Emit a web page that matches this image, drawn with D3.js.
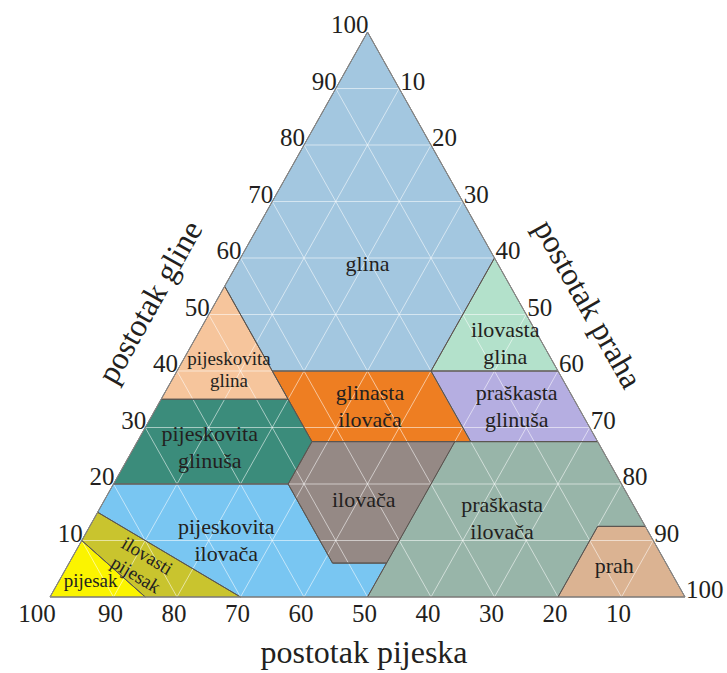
<!DOCTYPE html>
<html>
<head>
<meta charset="utf-8">
<script src="https://cdn.jsdelivr.net/npm/d3@7"></script>
<style>
  html, body { margin: 0; padding: 0; background: #fff; }
  svg text { font-family: "Liberation Serif", "Times New Roman", serif; fill: #231f20; }
</style>
</head>
<body>
<svg id="chart" width="727" height="673"></svg>
<script>
// ---- data (sand, silt, clay) ----
const classNames = ["glina", "ilovasta glina", "pijeskovita glina", "glinasta ilovača",
  "praškasta glinuša", "pijeskovita glinuša", "ilovača", "praškasta ilovača",
  "prah", "pijeskovita ilovača", "ilovasti pijesak", "pijesak"];
const classPolygons = [
  [[0,0,100],[45,0,55],[45,15,40],[20,40,40],[0,40,60]],
  [[0,40,60],[20,40,40],[0,60,40]],
  [[45,0,55],[65,0,35],[45,20,35]],
  [[45,15,40],[20,40,40],[20,52.5,27.5],[45,27.5,27.5]],
  [[20,40,40],[0,60,40],[0,72.5,27.5],[20,52.5,27.5]],
  [[65,0,35],[45,20,35],[45,27.5,27.5],[52.5,27.5,20],[80,0,20]],
  [[45,27.5,27.5],[22.5,50,27.5],[44,50,6],[52.5,41.5,6],[52.5,27.5,20]],
  [[22.5,50,27.5],[0,72.5,27.5],[0,87.5,12.5],[7.5,80,12.5],[20,80,0],[50,50,0],[44,50,6]],
  [[0,87.5,12.5],[0,100,0],[20,80,0],[7.5,80,12.5]],
  [[80,0,20],[52.5,27.5,20],[52.5,41.5,6],[44,50,6],[50,50,0],[70,30,0],[85,0,15]],
  [[85,0,15],[70,30,0],[85,15,0],[90,0,10]],
  [[90,0,10],[85,15,0],[100,0,0]]
];
const classColors = ["#a3c7e0", "#b3e1cb", "#f6c59c", "#ee7e22", "#b5aee1", "#3b8c7b",
  "#958985", "#98b5a9", "#dbb392", "#79c6f2", "#c9c42e", "#fbf400"];
// label anchor compositions (sand, silt, clay) and label lines
const labelLines = [["glina"], ["ilovasta","glina"], ["pijeskovita","glina"], ["glinasta","ilovača"],
  ["praškasta","glinuša"], ["pijeskovita","glinuša"], ["ilovača"], ["praškasta","ilovača"],
  ["prah"], ["pijeskovita","ilovača"], ["ilovasti","pijesak"], ["pijesak"]];
const labelAt = [[20.5,20.5,59],[5.8,49.2,45],[51.7,8.1,40.2],[32.7,33.5,33.8],
  [9.6,56.6,33.8],[61.6,11.9,26.5],[42,40.8,17.2],[21.8,64.2,14],
  [8.4,86.1,5.5],[67.2,22.7,10.1],[82.8,11.6,5.6],[92.2,5,2.8]];
const labelSmall = [false,false,true,false,false,false,false,false,false,false,true,true];

const clayTicks = [10,20,30,40,50,60,70,80,90,100];
const siltTicks = [10,20,30,40,50,60,70,80,90,100];
const sandTicks = [10,20,30,40,50,60,70,80,90,100];
const gridSteps = [10,20,30,40,50,60,70,80,90];

const axisTitles = { sand: "postotak pijeska", clay: "postotak gline", silt: "postotak praha" };

// ---- scales ----
const xScale = d3.scaleLinear().domain([0,100]).range([50,685]);
const yScale = d3.scaleLinear().domain([0,100]).range([597,32]);
function proj(p) { const [sand, silt, clay] = p; return [xScale(silt + clay/2), yScale(clay)]; }

const svg = d3.select("#chart");
const line = d3.line();

// regions
svg.append("g").selectAll("path").data(classPolygons).join("path")
  .attr("d", d => line(d.map(proj)) + "Z")
  .attr("fill", (d,i) => classColors[i])
  .attr("stroke", "none");

// grid
const grid = [];
gridSteps.forEach(v => {
  grid.push([[100-v,0,v],[0,100-v,v]]);   // clay const
  grid.push([[v,0,100-v],[v,100-v,0]]);   // sand const
  grid.push([[100-v,v,0],[0,v,100-v]]);   // silt const
});
svg.append("g").selectAll("line").data(grid).join("line")
  .attr("x1", d => proj(d[0])[0]).attr("y1", d => proj(d[0])[1])
  .attr("x2", d => proj(d[1])[0]).attr("y2", d => proj(d[1])[1])
  .attr("stroke", "#ffffff").attr("stroke-opacity", 0.55).attr("stroke-width", 1);

// region borders
svg.append("g").selectAll("path").data(classPolygons).join("path")
  .attr("d", d => line(d.map(proj)) + "Z")
  .attr("fill", "none")
  .attr("stroke", "#5a5550").attr("stroke-width", 1).attr("stroke-linejoin", "round");

// outline
svg.append("path").attr("d", line([[0,0,100],[100,0,0],[0,100,0]].map(proj)) + "Z")
  .attr("fill", "none").attr("stroke", "#8a8a8a").attr("stroke-width", 1);

// labels
const lg = svg.append("g");
labelLines.forEach((lines, i) => {
  const [cx, cy] = proj(labelAt[i]);
  const fs = labelSmall[i] ? 19 : 22;
  const lh = labelSmall[i] ? 22 : 27;
  const t = lg.append("text").attr("text-anchor", "middle").attr("font-size", fs);
  if (classNames[i] === "ilovasti pijesak") t.attr("transform", `rotate(31,${cx},${cy})`);
  lines.forEach((s, k) => {
    t.append("tspan").attr("x", cx)
      .attr("y", cy + (k - (lines.length - 1) / 2) * lh + fs * 0.33).text(s);
  });
});

// ticks
const tg = svg.append("g").attr("font-size", 25);
tg.selectAll(".clay").data(clayTicks).join("text")
  .attr("text-anchor", "end")
  .attr("x", v => proj([100 - v, 0, v])[0] + 1)
  .attr("y", v => proj([100 - v, 0, v])[1] + 1)
  .text(v => v);
tg.selectAll(".silt").data(siltTicks).join("text")
  .attr("text-anchor", "start")
  .attr("x", v => proj([0, v, 100 - v])[0] + 1)
  .attr("y", v => proj([0, v, 100 - v])[1] + 1)
  .text(v => v);
tg.selectAll(".sand").data(sandTicks).join("text")
  .attr("text-anchor", "middle")
  .attr("x", v => proj([v, 100 - v, 0])[0] - 3 - (v === 100 ? 10 : 0))
  .attr("y", v => proj([v, 100 - v, 0])[1] + 25)
  .text(v => v);

// axis titles
svg.append("text").attr("font-size", 32).attr("text-anchor", "middle")
  .attr("x", 364).attr("y", 663).text(axisTitles.sand);
svg.append("text").attr("font-size", 32).attr("text-anchor", "middle")
  .attr("transform", "translate(150,302) rotate(-60.7)").attr("dy", "0.33em").text(axisTitles.clay);
svg.append("text").attr("font-size", 32).attr("text-anchor", "middle")
  .attr("transform", "translate(588,304) rotate(60.7)").attr("dy", "0.33em").text(axisTitles.silt);
</script>
</body>
</html>
